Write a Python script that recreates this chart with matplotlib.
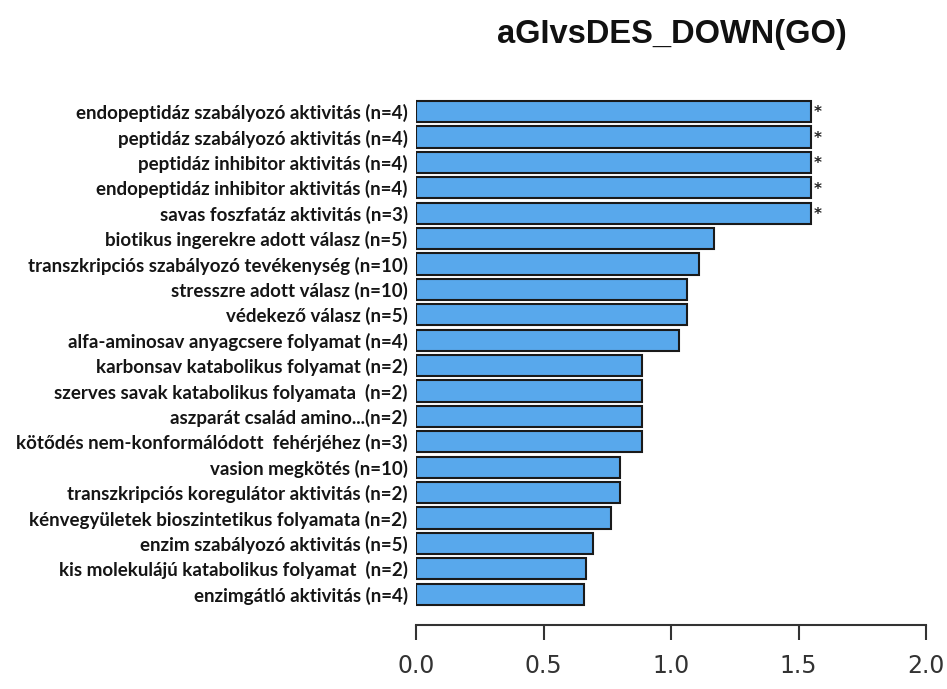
import matplotlib.pyplot as plt

# GO kategóriák felülről lefelé, a dúsulási értékekkel
kategoriak = [
    "endopeptidáz szabályozó aktivitás (n=4)",
    "peptidáz szabályozó aktivitás (n=4)",
    "peptidáz inhibitor aktivitás (n=4)",
    "endopeptidáz inhibitor aktivitás (n=4)",
    "savas foszfatáz aktivitás (n=3)",
    "biotikus ingerekre adott válasz (n=5)",
    "transzkripciós szabályozó tevékenység (n=10)",
    "stresszre adott válasz (n=10)",
    "védekező válasz (n=5)",
    "alfa-aminosav anyagcsere folyamat (n=4)",
    "karbonsav katabolikus folyamat (n=2)",
    "szerves savak katabolikus folyamata  (n=2)",
    "aszparát család amino...(n=2)",
    "kötődés nem-konformálódott  fehérjéhez (n=3)",
    "vasion megkötés (n=10)",
    "transzkripciós koregulátor aktivitás (n=2)",
    "kénvegyületek bioszintetikus folyamata (n=2)",
    "enzim szabályozó aktivitás (n=5)",
    "kis molekulájú katabolikus folyamat  (n=2)",
    "enzimgátló aktivitás (n=4)",
]
ertekek = [1.55, 1.55, 1.55, 1.55, 1.55, 1.17, 1.11, 1.063, 1.063, 1.03,
           0.885, 0.885, 0.885, 0.885, 0.80, 0.80, 0.765, 0.695, 0.667, 0.657]
szignifikans = [True] * 5 + [False] * 15
xtick_ertekek = [0.0, 0.5, 1.0, 1.5, 2.0]

fig = plt.figure(figsize=(9.47, 6.89), dpi=100)
ax = fig.add_axes([416 / 947, 1 - 609.4 / 689, 510 / 947, 513 / 689])

n = len(kategoriak)
pos = [n - 1 - i for i in range(n)]
ax.barh(pos, ertekek, height=1 / 1.2, color="#58a8ec",
        edgecolor="#1a1a1a", linewidth=1.5)

for p, v, s in zip(pos, ertekek, szignifikans):
    if s:
        ax.text(v + 0.008, p - 0.05, "*", ha="left", va="center",
                fontsize=11, fontweight="bold", color="#222222")

ax.set_xlim(0, 2.0)
ax.set_ylim(-0.6, n - 0.4)

ax.tick_params(axis="y", length=0, pad=6)
ax.tick_params(axis="x", length=11, width=1.5, pad=10, color="#333333",
               labelcolor="#333333", labelsize=17)

ax.set_yticks(pos)
ax.set_yticklabels(kategoriak, fontfamily="Lato", fontweight="bold",
                   fontsize=13.5, color="#151515")
ax.set_xticks(xtick_ertekek)
ax.set_xticklabels([f"{t:.1f}" for t in xtick_ertekek],
                   fontfamily="Liberation Sans", fontsize=17)

for side in ["top", "right", "left"]:
    ax.spines[side].set_visible(False)
ax.spines["bottom"].set_position(("outward", 11))
ax.spines["bottom"].set_linewidth(1.5)
ax.spines["bottom"].set_color("#333333")

fig.text(672 / 947, 1 - 35 / 689, "aGIvsDES_DOWN(GO)", ha="center",
         va="center", fontfamily="Liberation Sans", fontweight="bold",
         fontsize=23.5, color="#111111")

fig.savefig("out.png", dpi=100)
